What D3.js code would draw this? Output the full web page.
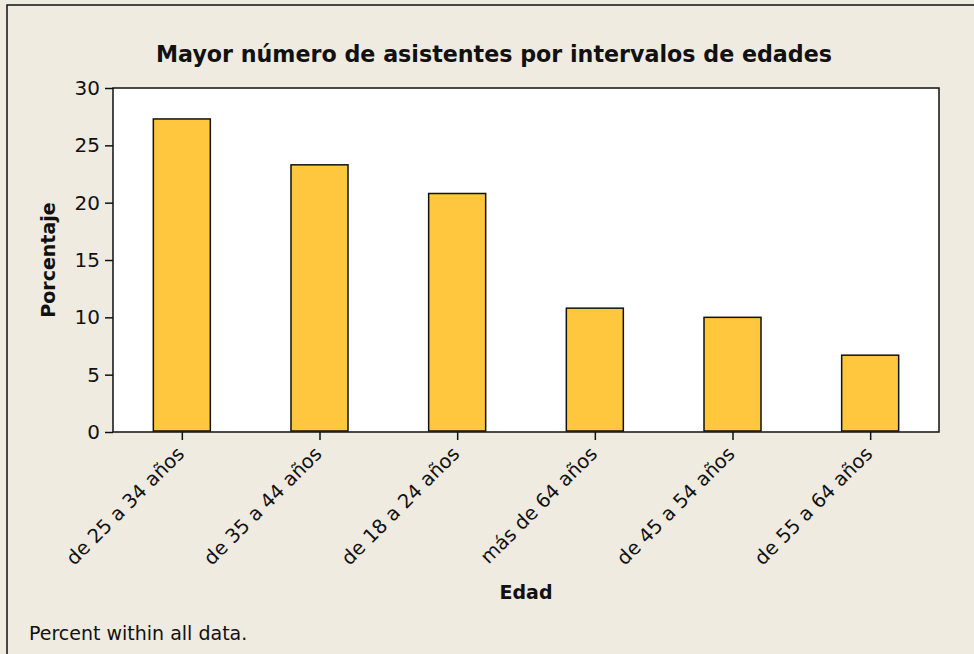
<!DOCTYPE html>
<html>
<head>
<meta charset="utf-8">
<script src="https://cdn.jsdelivr.net/npm/d3@7"></script>
<style>
  html, body { margin: 0; padding: 0; background: #efebe1; }
  svg { display: block; font-family: "DejaVu Sans", sans-serif; }
</style>
</head>
<body>
<svg id="chart" width="974" height="654"></svg>
<script>
const categories = ["de 25 a 34 años", "de 35 a 44 años", "de 18 a 24 años", "más de 64 años", "de 45 a 54 años", "de 55 a 64 años"];
const percents = [27.3, 23.3, 20.8, 10.8, 10.0, 6.7];
const yTicks = [0, 5, 10, 15, 20, 25, 30];

const chartTitle = "Mayor número de asistentes por intervalos de edades";
const xTitle = "Edad";
const yTitle = "Porcentaje";
const footnote = "Percent within all data.";

const width = 974;
const height = 654;
const plot = { left: 113, top: 88, right: 939, bottom: 432 };

const svg = d3.select("#chart");

// beige page with a frame line round it
svg.append("rect")
  .attr("width", width).attr("height", height)
  .attr("fill", "#efebe1");
svg.append("rect")
  .attr("x", 7).attr("y", 5)
  .attr("width", width + 20).attr("height", height + 20)
  .attr("fill", "none")
  .attr("stroke", "#111")
  .attr("stroke-width", 1.5);

const x = d3.scalePoint() // one slot per age group, bars centred in it
  .domain(categories)
  .range([plot.left, plot.right])
  .padding(0.5);

const y = d3.scaleLinear()
  .domain([0, 30])
  .range([plot.bottom, plot.top]);

const barWidth = 57;

// white data area
svg.append("rect")
  .attr("x", plot.left).attr("y", plot.top)
  .attr("width", plot.right - plot.left)
  .attr("height", plot.bottom - plot.top)
  .attr("fill", "white");

svg.append("g")
  .selectAll("rect")
  .data(percents)
  .join("rect")
  .attr("x", (d, i) => x(categories[i]) - barWidth / 2)
  .attr("y", d => y(d))
  .attr("width", barWidth)
  .attr("height", d => y(0) - y(d) - 1)
  .attr("fill", "#fec73e")
  .attr("stroke", "#111")
  .attr("stroke-width", 1.5);

// border of the data area
svg.append("rect")
  .attr("x", plot.left).attr("y", plot.top)
  .attr("width", plot.right - plot.left)
  .attr("height", plot.bottom - plot.top)
  .attr("fill", "none")
  .attr("stroke", "#111")
  .attr("stroke-width", 1.5);

// y axis
const yAxis = svg.append("g")
  .attr("transform", `translate(${plot.left},0)`)
  .call(d3.axisLeft(y).tickValues(yTicks).tickSize(8).tickPadding(5));
yAxis.select(".domain").remove();
yAxis.selectAll(".tick line").attr("stroke", "#111").attr("stroke-width", 1.5);
yAxis.selectAll(".tick text")
  .attr("font-size", 20)
  .attr("font-family", "DejaVu Sans")
  .attr("fill", "#111");

// x axis with slanted labels
const xAxis = svg.append("g")
  .attr("transform", `translate(0,${plot.bottom})`)
  .call(d3.axisBottom(x).tickSize(8).tickPadding(0));
xAxis.select(".domain").remove();
xAxis.selectAll(".tick line").attr("stroke", "#111").attr("stroke-width", 1.5);
xAxis.selectAll(".tick text")
  .attr("font-size", 19.5)
  .attr("font-family", "DejaVu Sans")
  .attr("fill", "#111")
  .attr("text-anchor", "end")
  .attr("dy", null)
  .attr("y", null)
  .attr("transform", "translate(3,23) rotate(-45)");

// titles
svg.append("text")
  .attr("x", 494).attr("y", 62)
  .attr("text-anchor", "middle")
  .attr("font-size", 23)
  .attr("font-weight", "bold")
  .attr("textLength", 676)
  .attr("lengthAdjust", "spacingAndGlyphs")
  .attr("fill", "#111")
  .text(chartTitle);

svg.append("text")
  .attr("x", (plot.left + plot.right) / 2).attr("y", 599)
  .attr("text-anchor", "middle")
  .attr("font-size", 19)
  .attr("font-weight", "bold")
  .attr("fill", "#111")
  .text(xTitle);

svg.append("text")
  .attr("transform", `translate(55,${(plot.top + plot.bottom) / 2}) rotate(-90)`)
  .attr("text-anchor", "middle")
  .attr("font-size", 19)
  .attr("font-weight", "bold")
  .attr("fill", "#111")
  .text(yTitle);

svg.append("text")
  .attr("x", 29).attr("y", 640)
  .attr("font-size", 19)
  .attr("fill", "#111")
  .text(footnote);
</script>
</body>
</html>
